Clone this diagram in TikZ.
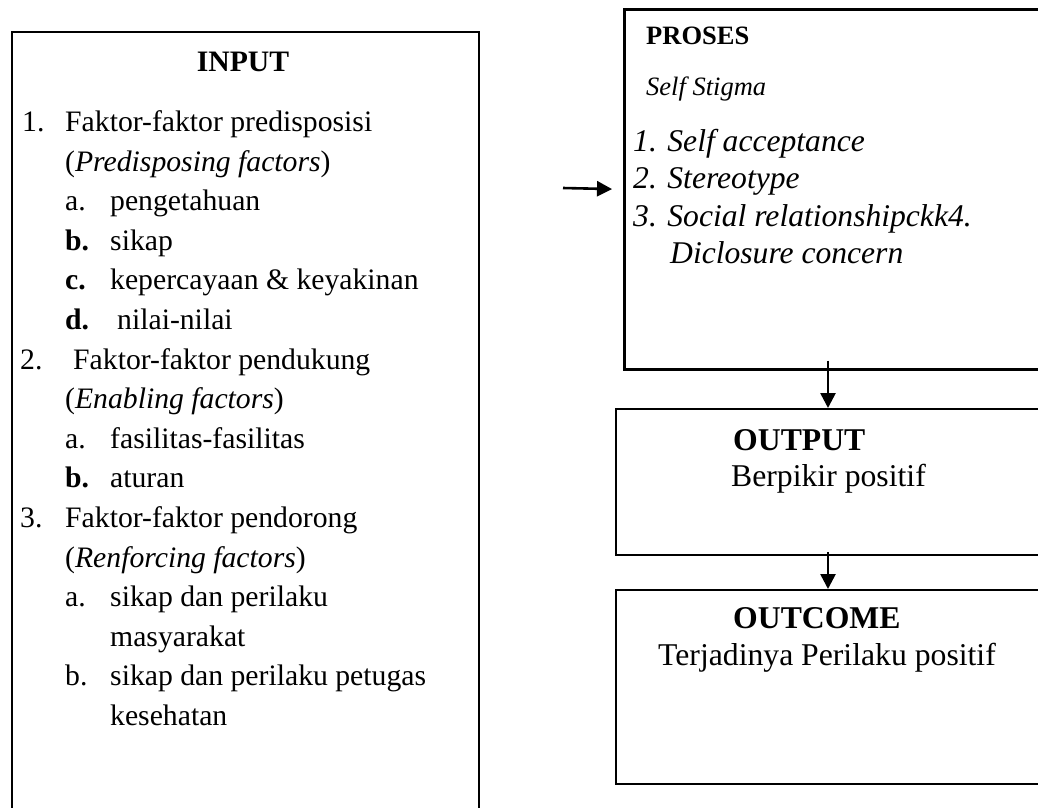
\documentclass[tikz,border=0pt]{standalone}
\usepackage{fontspec}
\setmainfont{Liberation Serif}
\usetikzlibrary{arrows.meta}

\tikzset{
  kotak/.style={draw, rectangle, line width=2pt, anchor=north west, inner sep=0pt},
  baris/.style={anchor=base west, inner sep=0pt, font=\fontsize{#1}{#1}\selectfont},
  baris/.default=29.7,
  panah/.style={-{Triangle[length=15pt,width=15pt]}, line width=2.6pt}
}

\begin{document}
\begin{tikzpicture}[x=1pt,y=-1pt]
\clip (0,0) rectangle (1038,807);
% kotak-kotak
\node [kotak, minimum width=467pt, minimum height=820pt] (input) at (11,31) {};
\node [kotak, line width=2.6pt, minimum width=432pt, minimum height=360pt] (proses) at (623,8) {};
\node [kotak, minimum width=424pt, minimum height=146pt] (output) at (615,408) {};
\node [kotak, minimum width=424pt, minimum height=194pt] (outcome) at (615,589) {};

% INPUT
\node [baris, anchor=base] (judul) at (243,71.7) {\bfseries INPUT};
\foreach \k/\px/\lbl in {0/22/1., 2/65/a., 3/65/\textbf{b.}, 4/65/\textbf{c.}, 5/65/\textbf{d.},
    6/20/2., 8/65/a., 9/65/\textbf{b.}, 10/20/3., 12/65/a., 14/65/b.}
  \node [baris] (lbl\k) at (\px,{131.5+39.6*\k}) {\lbl};
\foreach \k/\px/\isi in {0/65/Faktor-faktor predisposisi, 1/65/(\textit{Predisposing factors}),
    2/110/pengetahuan, 3/110/sikap, 4/110/kepercayaan \& keyakinan, 5/117/nilai-nilai,
    6/73/Faktor-faktor pendukung, 7/65/(\textit{Enabling factors}),
    8/110/fasilitas-fasilitas, 9/110/aturan,
    10/65/Faktor-faktor pendorong, 11/65/(\textit{Renforcing factors}),
    12/110/sikap dan perilaku, 13/110/masyarakat,
    14/110/sikap dan perilaku petugas, 15/110/kesehatan}
  \node [baris] (isi\k) at (\px,{131.5+39.6*\k}) {\isi};

% PROSES
\node [baris=26.5] (tproses) at (646,44.3) {\bfseries PROSES};
\node [baris=26.5] (stigma) at (646,95) {\itshape Self Stigma};
\foreach \k/\px/\isi in {0/633/1. Self acceptance, 1/633/2. Stereotype,
    2/633/3. Social relationshipckk4., 3/670/Diclosure concern}
  \node [baris=31.6] (aspek\k) at (\px,{151.7+37.2*\k}) {\itshape\isi};

% OUTPUT dan OUTCOME
\node [baris=31.7] (toutput) at (733,450) {\bfseries OUTPUT};
\node [baris=31.7] (berpikir) at (731,486) {Berpikir positif};
\node [baris=31.7] (toutcome) at (733,628.3) {\bfseries OUTCOME};
\node [baris=31.7] (terjadi) at (658,665) {Terjadinya Perilaku positif};

% panah
\coordinate (masuk) at (563,188);
\draw [panah, shorten >=11pt] (masuk) -- (proses.west);
\draw [panah] ([yshift=10pt]proses.south -| output.north) -- (output.north);
\draw [panah] ([yshift=4pt]output.south -| outcome.north) -- (outcome.north);
\end{tikzpicture}
\end{document}
